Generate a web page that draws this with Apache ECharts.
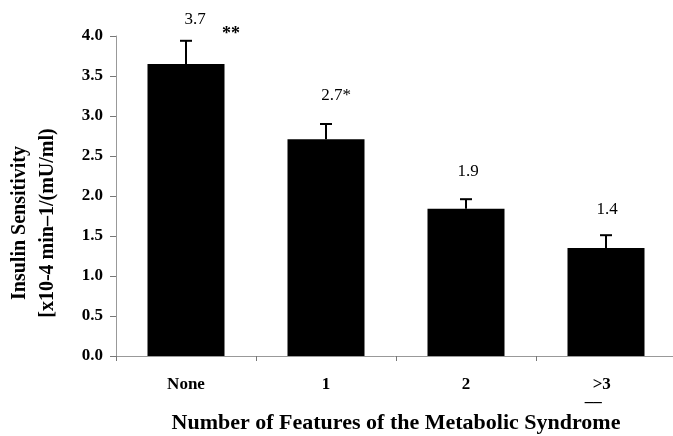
<!doctype html>
<html lang="en">
<head>
    <meta charset="UTF-8">
    <title>Insulin Sensitivity</title>
    <script src="https://cdn.jsdelivr.net/npm/echarts@6/dist/echarts.min.js"></script>
    <style>
        html, body { margin: 0; padding: 0; background: #fff; }
        #chart { width: 673px; height: 436px; }
    </style>
</head>
<body>
<div id="chart"></div>
<script type="text/javascript">
    // categories and values
    var categories = ['None', '1', '2', '>3'];
    var means = [3.65, 2.71, 1.84, 1.35];
    var errors = [0.29, 0.19, 0.12, 0.16];
    var barLabels = ['3.7', '2.7*', '1.9', '1.4'];
    var yTicks = [0, 4, 0.5];   // min, max, interval
    var serif = '"Liberation Serif", "DejaVu Serif", serif';

    var errData = means.map(function (m, i) {
        return [i, m, m + errors[i]];
    });

    var myChart = echarts.init(document.getElementById('chart'));
    var option = {
        backgroundColor: '#fff',
        animation: false,
        grid: { left: 116, top: 36, width: 560, height: 320, outerBoundsMode: 'none', containLabel: false },
        xAxis: {
            type: 'category',
            data: categories,
            name: 'Number of Features of the Metabolic Syndrome',
            nameLocation: 'middle',
            nameGap: 56,
            nameTextStyle: { fontFamily: serif, fontWeight: 'bold', fontSize: 22, color: '#000' },
            axisLine: { lineStyle: { color: '#999', width: 1 } },
            axisTick: { show: true, inside: false, length: 5, lineStyle: { color: '#777' } },
            axisLabel: {
                margin: 20,
                fontFamily: serif, fontWeight: 'bold', fontSize: 17, color: '#000',
                formatter: function (v) {
                    // ">3" drawn with an underline under the ">" (i.e. at least 3)
                    if (v === '>3') return '>3{s|  }\n{u|__}{s|      }';
                    return v;
                },
                rich: {
                    u: { fontFamily: serif, fontSize: 17, color: '#000', fontWeight: 'bold', lineHeight: 8 },
                    s: { fontFamily: serif, fontSize: 17, lineHeight: 8 }
                }
            }
        },
        yAxis: {
            type: 'value',
            min: yTicks[0],
            max: yTicks[1],
            interval: yTicks[2],
            name: 'Insulin Sensitivity\n[x10-4 min\u20131/(mU/ml)',
            nameLocation: 'middle',
            nameRotate: 90,
            nameGap: 54,
            nameTextStyle: {
                fontFamily: serif, fontWeight: 'bold', fontSize: 20, color: '#000',
                lineHeight: 28, padding: [0, 54, 0, 0]
            },
            splitLine: { show: false },
            axisLine: { show: true, lineStyle: { color: '#999', width: 1 } },
            axisTick: { show: true, inside: false, length: 6, lineStyle: { color: '#777' } },
            axisLabel: {
                margin: 13,
                fontFamily: serif, fontWeight: 'bold', fontSize: 17, color: '#000',
                formatter: function (v) { return v.toFixed(1); }
            }
        },
        series: [
            {
                type: 'bar',
                data: means,
                barWidth: '55%',
                itemStyle: { color: '#000' },
                z: 2
            },
            {
                type: 'custom',
                data: errData,
                z: 3,
                renderItem: function (params, api) {
                    var i = params.dataIndex;
                    var bot = api.coord([api.value(0), api.value(1)]);
                    var top = api.coord([api.value(0), api.value(2)]);
                    var cap = 6;
                    var style = { stroke: '#000', lineWidth: 2 };
                    var lift = [21, 28, 28, 26][i];
                    var shift = [9, 10, 2, 1][i];
                    var children = [
                        { type: 'line', shape: { x1: bot[0], y1: bot[1], x2: top[0], y2: top[1] }, style: style },
                        { type: 'line', shape: { x1: top[0] - cap, y1: top[1], x2: top[0] + cap, y2: top[1] }, style: style },
                        {
                            type: 'text',
                            style: {
                                text: barLabels[i],
                                x: top[0] + shift,
                                y: top[1] - lift,
                                align: 'center', verticalAlign: 'middle',
                                font: '17px ' + serif, fill: '#000'
                            }
                        }
                    ];
                    if (i === 0) {
                        children.push({
                            type: 'text',
                            style: {
                                text: '**',
                                x: top[0] + 45, y: top[1] - 6,
                                align: 'center', verticalAlign: 'middle',
                                font: 'bold 18px ' + serif, fill: '#000'
                            }
                        });
                    }
                    return { type: 'group', children: children };
                }
            }
        ]
    };
    myChart.setOption(option);
</script>
</body>
</html>
